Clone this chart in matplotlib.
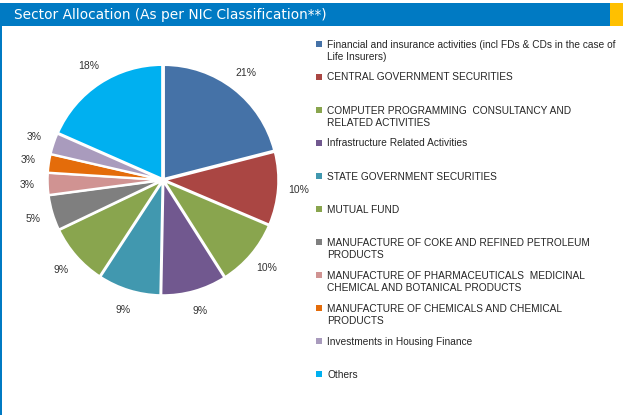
import matplotlib
matplotlib.use("Agg")
import matplotlib.pyplot as plt
from matplotlib.patches import Rectangle

categories = [
    "Financial and insurance activities (incl FDs & CDs in the case of\nLife Insurers)",
    "CENTRAL GOVERNMENT SECURITIES",
    "COMPUTER PROGRAMMING  CONSULTANCY AND\nRELATED ACTIVITIES",
    "Infrastructure Related Activities",
    "STATE GOVERNMENT SECURITIES",
    "MUTUAL FUND",
    "MANUFACTURE OF COKE AND REFINED PETROLEUM\nPRODUCTS",
    "MANUFACTURE OF PHARMACEUTICALS  MEDICINAL\nCHEMICAL AND BOTANICAL PRODUCTS",
    "MANUFACTURE OF CHEMICALS AND CHEMICAL\nPRODUCTS",
    "Investments in Housing Finance",
    "Others",
]
values = [21.0, 10.4, 9.6, 9.3, 8.9, 8.7, 5.0, 3.1, 2.6, 3.0, 18.4]
colors = ["#4572A7", "#AA4643", "#89A54E", "#71588F", "#4198AF", "#89A54E",
          "#7F7F7F", "#D09392", "#E46C0A", "#A99BBD", "#00B0F0"]

W, H = 623, 415
fig = plt.figure(figsize=(W / 100, H / 100), dpi=100)
fig.patch.set_facecolor("white")

# header bar
fig.patches.append(Rectangle((0, 1 - 26 / H), 610 / W, 23 / H, transform=fig.transFigure,
                             facecolor="#007AC3", edgecolor="none"))
fig.patches.append(Rectangle((610 / W, 1 - 26 / H), 13 / W, 23 / H, transform=fig.transFigure,
                             facecolor="#FFC000", edgecolor="none"))
fig.patches.append(Rectangle((0, 0), 2 / W, 1 - 26 / H, transform=fig.transFigure,
                             facecolor="#007AC3", edgecolor="none"))
fig.text(14 / W, 1 - 15.5 / H, "Sector Allocation (As per NIC Classification**)",
         color="white", fontsize=9.9, family="DejaVu Sans", va="center", ha="left")

# pie
cx, cy, R = 163, H - 180, 114
lim = 1.3
side = 2 * lim * R
ax = fig.add_axes([(cx - side / 2) / W, (cy - side / 2) / H, side / W, side / H])
ax.pie(values, colors=colors, startangle=90, counterclock=False,
       explode=[0.012] * len(values),
       wedgeprops=dict(edgecolor="white", linewidth=1.6),
       autopct=lambda p: f"{p:.0f}%", pctdistance=1.18,
       textprops=dict(fontsize=7.5, color="#333333", family="Liberation Sans"))
ax.set_xlim(-lim, lim)
ax.set_ylim(-lim, lim)
ax.set_aspect("equal")
ax.axis("off")

# legend
y0 = 44
step = 33.0
for i, (lab, col) in enumerate(zip(categories, colors)):
    y = y0 + i * step
    fig.patches.append(Rectangle((316 / W, 1 - (y + 3) / H), 6 / W, 6 / H,
                                 transform=fig.transFigure, facecolor=col, edgecolor="none"))
    fig.text(327 / W, 1 - (y - 4.5) / H, lab, fontsize=7.3, family="Liberation Sans",
             color="#262626", va="top", ha="left", linespacing=1.3)

fig.savefig("out.png", dpi=100)
